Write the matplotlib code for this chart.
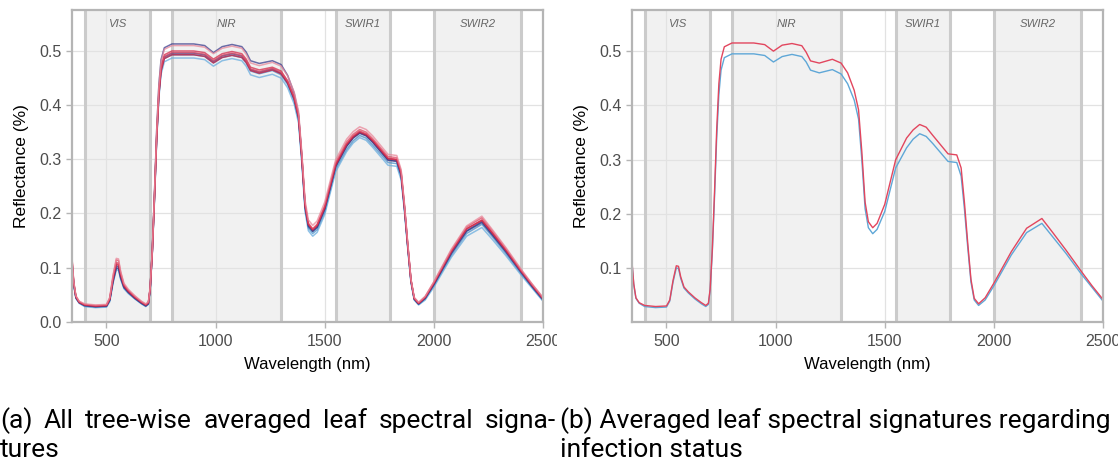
import matplotlib
matplotlib.use("Agg")
import matplotlib.pyplot as plt
from matplotlib.transforms import Bbox, TransformedBbox

plt.rcParams['font.family'] = ['Liberation Sans', 'DejaVu Sans']

# sampled wavelengths (nm)
wavelength = [340, 350, 360, 375, 400, 450, 500, 515, 530, 545, 555, 565, 580, 600, 630, 660, 680, 692, 700,
              710, 720, 730, 740, 750, 765, 800, 900, 950, 990, 1030, 1075, 1120, 1140, 1160, 1200, 1260,
              1300, 1330, 1360, 1380, 1395, 1410, 1425, 1445, 1465, 1500, 1550, 1600, 1630, 1660, 1690, 1720,
              1790, 1830, 1850, 1865, 1880, 1895, 1910, 1930, 1960, 2000, 2080, 2150, 2220, 2270, 2330, 2400,
              2450, 2500]

# tree-wise averaged leaf spectra
tree_a = [0.125, 0.072, 0.046, 0.036, 0.031, 0.029, 0.030, 0.042, 0.080, 0.109, 0.108, 0.088, 0.067, 0.057,
          0.045, 0.036, 0.031, 0.035, 0.061, 0.132, 0.234, 0.345, 0.426, 0.471, 0.493, 0.500, 0.500, 0.497,
          0.485, 0.495, 0.499, 0.495, 0.485, 0.470, 0.465, 0.470, 0.463, 0.445, 0.415, 0.380, 0.305, 0.215,
          0.180, 0.170, 0.178, 0.212, 0.290, 0.328, 0.343, 0.352, 0.347, 0.335, 0.302, 0.300, 0.275, 0.214,
          0.143, 0.077, 0.043, 0.034, 0.045, 0.071, 0.129, 0.171, 0.188, 0.163, 0.132, 0.093, 0.067, 0.042]
tree_b = [0.128, 0.073, 0.047, 0.037, 0.032, 0.030, 0.031, 0.044, 0.084, 0.114, 0.113, 0.091, 0.069, 0.058,
          0.047, 0.037, 0.032, 0.036, 0.062, 0.131, 0.232, 0.343, 0.423, 0.468, 0.490, 0.497, 0.497, 0.494,
          0.482, 0.492, 0.496, 0.492, 0.482, 0.467, 0.462, 0.468, 0.461, 0.444, 0.415, 0.381, 0.307, 0.218,
          0.182, 0.172, 0.180, 0.215, 0.294, 0.332, 0.346, 0.355, 0.350, 0.338, 0.305, 0.303, 0.278, 0.216,
          0.145, 0.078, 0.044, 0.035, 0.046, 0.073, 0.132, 0.175, 0.192, 0.167, 0.135, 0.095, 0.069, 0.044]
tree_c = [0.130, 0.074, 0.048, 0.038, 0.033, 0.031, 0.032, 0.045, 0.086, 0.117, 0.116, 0.093, 0.071, 0.060,
          0.048, 0.038, 0.033, 0.037, 0.063, 0.134, 0.238, 0.352, 0.435, 0.480, 0.503, 0.510, 0.510, 0.507,
          0.495, 0.505, 0.509, 0.505, 0.494, 0.478, 0.473, 0.479, 0.472, 0.454, 0.424, 0.389, 0.313, 0.224,
          0.188, 0.178, 0.186, 0.221, 0.299, 0.337, 0.351, 0.360, 0.355, 0.343, 0.309, 0.307, 0.281, 0.219,
          0.147, 0.079, 0.045, 0.036, 0.047, 0.074, 0.134, 0.177, 0.195, 0.169, 0.137, 0.097, 0.070, 0.045]
tree_d = [0.118, 0.069, 0.044, 0.035, 0.030, 0.028, 0.029, 0.040, 0.074, 0.099, 0.099, 0.081, 0.063, 0.054,
          0.043, 0.034, 0.029, 0.033, 0.060, 0.134, 0.240, 0.355, 0.438, 0.484, 0.506, 0.513, 0.513, 0.510,
          0.497, 0.508, 0.512, 0.508, 0.498, 0.482, 0.477, 0.482, 0.475, 0.455, 0.422, 0.384, 0.306, 0.214,
          0.178, 0.167, 0.175, 0.209, 0.287, 0.324, 0.339, 0.348, 0.343, 0.331, 0.298, 0.296, 0.271, 0.211,
          0.141, 0.076, 0.042, 0.033, 0.043, 0.069, 0.126, 0.167, 0.183, 0.159, 0.129, 0.091, 0.065, 0.041]
tree_e = [0.115, 0.067, 0.043, 0.034, 0.028, 0.026, 0.027, 0.037, 0.071, 0.096, 0.095, 0.078, 0.061, 0.052,
          0.042, 0.033, 0.028, 0.032, 0.058, 0.127, 0.225, 0.334, 0.413, 0.457, 0.480, 0.487, 0.487, 0.484,
          0.472, 0.482, 0.486, 0.482, 0.472, 0.456, 0.451, 0.457, 0.450, 0.432, 0.402, 0.367, 0.292, 0.203,
          0.168, 0.158, 0.165, 0.198, 0.277, 0.314, 0.330, 0.340, 0.335, 0.322, 0.289, 0.287, 0.262, 0.204,
          0.136, 0.072, 0.040, 0.031, 0.040, 0.064, 0.119, 0.158, 0.174, 0.151, 0.122, 0.086, 0.062, 0.038]
tree_f = [0.119, 0.069, 0.044, 0.035, 0.029, 0.027, 0.028, 0.039, 0.074, 0.099, 0.098, 0.080, 0.063, 0.054,
          0.043, 0.034, 0.029, 0.033, 0.059, 0.129, 0.229, 0.338, 0.418, 0.463, 0.486, 0.493, 0.493, 0.490,
          0.478, 0.488, 0.492, 0.488, 0.478, 0.463, 0.458, 0.464, 0.456, 0.438, 0.408, 0.373, 0.298, 0.208,
          0.173, 0.163, 0.170, 0.203, 0.282, 0.318, 0.334, 0.344, 0.339, 0.326, 0.294, 0.292, 0.267, 0.208,
          0.138, 0.074, 0.041, 0.032, 0.042, 0.067, 0.123, 0.163, 0.180, 0.156, 0.126, 0.089, 0.064, 0.039]
tree_g = [0.121, 0.070, 0.045, 0.036, 0.030, 0.028, 0.029, 0.040, 0.077, 0.103, 0.102, 0.083, 0.065, 0.055,
          0.044, 0.035, 0.030, 0.034, 0.060, 0.130, 0.231, 0.341, 0.421, 0.466, 0.489, 0.496, 0.496, 0.493,
          0.481, 0.491, 0.495, 0.491, 0.481, 0.466, 0.461, 0.467, 0.459, 0.441, 0.411, 0.376, 0.301, 0.211,
          0.176, 0.167, 0.174, 0.208, 0.287, 0.324, 0.340, 0.349, 0.344, 0.332, 0.299, 0.297, 0.272, 0.212,
          0.141, 0.076, 0.042, 0.033, 0.044, 0.069, 0.127, 0.168, 0.185, 0.160, 0.130, 0.092, 0.066, 0.041]
tree_h = [0.124, 0.071, 0.046, 0.036, 0.031, 0.029, 0.030, 0.042, 0.079, 0.106, 0.105, 0.086, 0.066, 0.056,
          0.045, 0.036, 0.031, 0.035, 0.060, 0.129, 0.229, 0.338, 0.418, 0.463, 0.486, 0.493, 0.493, 0.490,
          0.478, 0.488, 0.492, 0.488, 0.479, 0.464, 0.459, 0.465, 0.458, 0.441, 0.412, 0.378, 0.304, 0.215,
          0.180, 0.170, 0.178, 0.211, 0.289, 0.327, 0.341, 0.350, 0.345, 0.334, 0.301, 0.299, 0.274, 0.213,
          0.143, 0.077, 0.043, 0.034, 0.045, 0.071, 0.130, 0.172, 0.187, 0.163, 0.132, 0.094, 0.068, 0.043]

# averaged spectra per infection status
healthy_mean = [0.120, 0.070, 0.045, 0.036, 0.030, 0.028, 0.029, 0.040, 0.075, 0.101, 0.100, 0.082, 0.064,
                0.055, 0.044, 0.035, 0.030, 0.034, 0.060, 0.130, 0.230, 0.340, 0.420, 0.465, 0.488, 0.495,
                0.495, 0.492, 0.480, 0.490, 0.494, 0.490, 0.480, 0.465, 0.460, 0.466, 0.458, 0.440, 0.410,
                0.375, 0.300, 0.210, 0.175, 0.164, 0.172, 0.205, 0.285, 0.322, 0.338, 0.348, 0.343, 0.330,
                0.297, 0.295, 0.270, 0.210, 0.140, 0.075, 0.042, 0.032, 0.042, 0.068, 0.125, 0.166, 0.183,
                0.158, 0.128, 0.090, 0.065, 0.040]
infected_mean = [0.122, 0.072, 0.046, 0.037, 0.032, 0.030, 0.031, 0.042, 0.078, 0.105, 0.104, 0.085, 0.066,
                 0.057, 0.046, 0.037, 0.032, 0.036, 0.062, 0.135, 0.240, 0.355, 0.440, 0.485, 0.508, 0.515,
                 0.515, 0.512, 0.500, 0.511, 0.514, 0.510, 0.498, 0.482, 0.478, 0.485, 0.478, 0.460, 0.428,
                 0.392, 0.315, 0.222, 0.186, 0.175, 0.183, 0.218, 0.300, 0.340, 0.355, 0.365, 0.360, 0.345,
                 0.311, 0.309, 0.285, 0.222, 0.148, 0.080, 0.045, 0.035, 0.046, 0.073, 0.131, 0.174, 0.192,
                 0.166, 0.134, 0.095, 0.068, 0.043]

trees = [tree_e, tree_f, tree_d, tree_g, tree_h, tree_a, tree_b, tree_c]
tree_colors = ['#6aaedf', '#4b90c8', '#3b3f8e', '#2f3b86', '#c8193c', '#d42a4a', '#e04a64', '#e9889a']

band_names = ['VIS', 'NIR', 'SWIR1', 'SWIR2']
band_start = [400, 800, 1550, 2000]
band_end = [700, 1300, 1800, 2400]

xticks = [500, 1000, 1500, 2000, 2500]
W, H = 1118, 461

fig = plt.figure(figsize=(W / 100, H / 100), dpi=100)
ax1 = fig.add_axes([72 / W, 139 / H, 471 / W, 312 / H])
ax2 = fig.add_axes([632 / W, 139 / H, 471 / W, 312 / H])


def style(ax, yticks, ylim):
    for s, e, name in zip(band_start, band_end, band_names):
        ax.axvspan(s, e, color='#f1f1f1', lw=0, zorder=0.1)
        ax.axvline(s, color='#cbcbcb', lw=2.2, zorder=0.6)
        ax.axvline(e, color='#cbcbcb', lw=2.2, zorder=0.6)
        ax.text((s + e) / 2, 0.55, name, ha='center', va='center', fontsize=8.2,
                style='italic', color='#666666', zorder=3)
    ax.set_axisbelow(True)
    ax.grid(color='#e2e2e2', lw=0.9)
    ax.set_xlim(342, 2500)
    ax.set_ylim(*ylim)
    ax.set_xticks(xticks)
    ax.set_yticks(yticks)
    ax.set_yticklabels([f'{v:.1f}' for v in yticks])
    for sp in ax.spines.values():
        sp.set_color('#b5b5b5')
        sp.set_linewidth(1.6)
    ax.tick_params(colors='#b5b5b5', labelcolor='#4d4d4d', labelsize=11.5, length=4, width=1)
    ax.tick_params(axis='x', pad=4.5)
    ax.set_xlabel('Wavelength (nm)', fontsize=12, labelpad=6)
    ax.set_ylabel('Reflectance (%)', fontsize=12.5, labelpad=7)


style(ax1, [0.0, 0.1, 0.2, 0.3, 0.4, 0.5], (-0.0005, 0.5757))
style(ax2, [0.1, 0.2, 0.3, 0.4, 0.5], (0.0015, 0.5757))

for spec, c in zip(trees, tree_colors):
    ax1.plot(wavelength, spec, color=c, lw=1.1, alpha=0.75, zorder=2)

ax2.plot(wavelength, healthy_mean, color='#5fa7d7', lw=1.0, zorder=2)
ax2.plot(wavelength, infected_mean, color='#e2465e', lw=1.0, zorder=2)

# the left panel is cut at its own edge
left_box = TransformedBbox(Bbox([[0, 0], [557 / W, 1]]), fig.transFigure)
for lab in ax1.get_xticklabels():
    lab.set_clip_box(left_box)
    lab.set_clip_on(True)

# sub-captions, first line of (a) justified to the panel width
renderer = fig.canvas.get_renderer()
cap = dict(family=['Roboto', 'DejaVu Sans'], fontsize=19)
line1 = 428
line2 = 457

words = ['(a)', 'All', 'tree-wise', 'averaged', 'leaf', 'spectral', 'signa-']
objs = [fig.text(0, 0, w, **cap) for w in words]
widths = [o.get_window_extent(renderer).width for o in objs]
gap = (556 - sum(widths)) / (len(words) - 1)
x = 0
for o, w in zip(objs, widths):
    o.set_position((x / W, (H - line1) / H))
    x += w + gap
fig.text(0, (H - line2) / H, 'tures', **cap)
fig.text(560 / W, (H - line1) / H, '(b) Averaged leaf spectral signatures regarding', **cap)
fig.text(560 / W, (H - line2) / H, 'infection status', **cap)

fig.savefig('out.png', dpi=100)
